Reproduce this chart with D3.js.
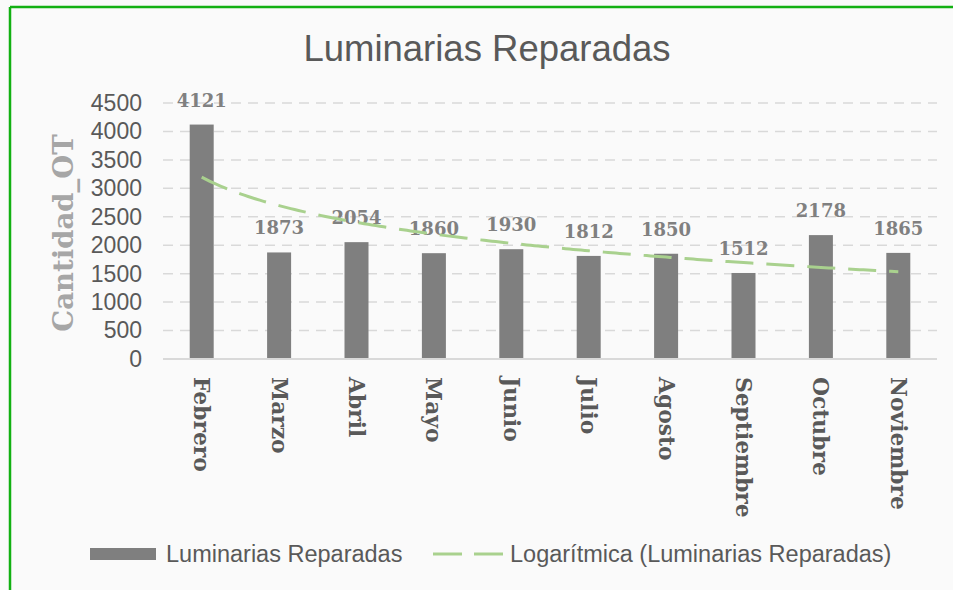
<!DOCTYPE html>
<html>
<head>
<meta charset="utf-8">
<script src="https://cdn.jsdelivr.net/npm/d3@7"></script>
<style>
  html, body { margin: 0; padding: 0; background: #fafafa; }
  svg { display: block; }
</style>
</head>
<body>
<svg id="chart" width="953" height="590"></svg>
<script>
// months and repaired lamps
let meses = ["Febrero", "Marzo", "Abril", "Mayo", "Junio", "Julio", "Agosto", "Septiembre", "Octubre", "Noviembre"];
let luminarias = [4121, 1873, 2054, 1860, 1930, 1812, 1850, 1512, 2178, 1865];
let yTicks = [0, 500, 1000, 1500, 2000, 2500, 3000, 3500, 4000, 4500];

let svg = d3.select("#chart");

let plotLeft = 163, plotRight = 937, plotTop = 103, plotBottom = 359;

// green frame (only top and left visible)
svg.append("line").attr("x1", 10).attr("x2", 953).attr("y1", 7).attr("y2", 7)
    .attr("stroke", "#12b012").attr("stroke-width", 2.5);
svg.append("line").attr("x1", 10).attr("x2", 10).attr("y1", 7).attr("y2", 590)
    .attr("stroke", "#12b012").attr("stroke-width", 2.5);

let x = d3.scaleBand()
    .domain(meses)
    .range([plotLeft, plotRight])
    .paddingInner(0.69)
    .paddingOuter(0.345);

let y = d3.scaleLinear()
    .domain([0, 4500])
    .range([plotBottom, plotTop]);

// title
svg.append("text")
    .attr("x", 487).attr("y", 61)
    .attr("text-anchor", "middle")
    .style("font-family", "'Liberation Sans', Arial, sans-serif")
    .style("font-size", "36.5px")
    .style("fill", "#595959")
    .text("Luminarias Reparadas");

// gridlines
svg.append("g").selectAll("line")
    .data(yTicks.filter(d => d > 0))
    .join("line")
    .attr("x1", plotLeft).attr("x2", plotRight)
    .attr("y1", d => y(d)).attr("y2", d => y(d))
    .attr("stroke", "#d9d9d9")
    .attr("stroke-width", 1.5)
    .attr("stroke-dasharray", "10,7");

// y axis labels
let yAxis = d3.axisLeft(y).tickValues(yTicks).tickFormat(d3.format("d")).tickSize(0).tickPadding(0);
let yg = svg.append("g")
    .attr("transform", "translate(142,0)")
    .call(yAxis);
yg.select(".domain").remove();
yg.selectAll("text")
    .style("font-family", "'Liberation Sans', Arial, sans-serif")
    .style("font-size", "23px")
    .style("fill", "#595959");

// y axis title
svg.append("text")
    .attr("transform", "translate(73,233) rotate(-90)")
    .attr("text-anchor", "middle")
    .style("font-family", "'DejaVu Serif', serif")
    .style("font-weight", "bold")
    .style("font-size", "27.5px")
    .style("fill", "#a6a6a6")
    .text("Cantidad_OT");

// bars
svg.append("g").selectAll("rect")
    .data(luminarias)
    .join("rect")
    .attr("x", (d, i) => x(meses[i]))
    .attr("width", x.bandwidth())
    .attr("y", d => y(d))
    .attr("height", d => y(0) - y(d))
    .style("fill", "#7f7f7f");

// baseline
svg.append("line")
    .attr("x1", plotLeft).attr("x2", plotRight)
    .attr("y1", y(0)).attr("y2", y(0))
    .attr("stroke", "#d9d9d9").attr("stroke-width", 2);

// data labels
svg.append("g").selectAll("text")
    .data(luminarias)
    .join("text")
    .attr("x", (d, i) => x(meses[i]) + x.bandwidth() / 2)
    .attr("y", d => y(d) - 18)
    .attr("text-anchor", "middle")
    .style("font-family", "'DejaVu Serif', serif")
    .style("font-weight", "bold")
    .style("font-size", "18px")
    .style("fill", "#808080")
    .text(d => d);

// x labels (rotated)
svg.append("g").selectAll("text")
    .data(meses)
    .join("text")
    .attr("transform", d => "translate(" + (x(d) + x.bandwidth() / 2) + ",377) rotate(90)")
    .attr("dominant-baseline", "central")
    .style("font-family", "'DejaVu Serif', serif")
    .style("font-weight", "bold")
    .style("font-size", "21.8px")
    .style("fill", "#595959")
    .text(d => d);

// logarithmic trendline: least squares fit y = a + b ln(x)
let lx = luminarias.map((d, i) => Math.log(i + 1));
let mx = d3.mean(lx), my = d3.mean(luminarias);
let b = d3.sum(lx, (v, i) => (v - mx) * (luminarias[i] - my)) / d3.sum(lx, v => (v - mx) * (v - mx));
let a = my - b * mx;

let xt = d3.scaleLinear()
    .domain([1, meses.length])
    .range([x(meses[0]) + x.bandwidth() / 2, x(meses[meses.length - 1]) + x.bandwidth() / 2]);

let trendPts = d3.range(1, meses.length + 0.001, 0.05);
svg.append("path")
    .datum(trendPts)
    .attr("d", d3.line().x(t => xt(t)).y(t => y(a + b * Math.log(t))))
    .attr("fill", "none")
    .attr("stroke", "#a9d18e")
    .attr("stroke-width", 3)
    .attr("stroke-dasharray", "28,13");

// legend
let legend = svg.append("g");
legend.append("rect")
    .attr("x", 90).attr("y", 548).attr("width", 66).attr("height", 12)
    .style("fill", "#7f7f7f");
legend.append("text")
    .attr("x", 166).attr("y", 562)
    .style("font-family", "'Liberation Sans', Arial, sans-serif")
    .style("font-size", "23.5px")
    .style("fill", "#595959")
    .text("Luminarias Reparadas");
legend.append("line")
    .attr("x1", 433).attr("x2", 503).attr("y1", 554).attr("y2", 554)
    .attr("stroke", "#a9d18e").attr("stroke-width", 3)
    .attr("stroke-dasharray", "29,12");
legend.append("text")
    .attr("x", 510).attr("y", 562)
    .style("font-family", "'Liberation Sans', Arial, sans-serif")
    .style("font-size", "23.5px")
    .style("fill", "#595959")
    .text("Logarítmica (Luminarias Reparadas)");
</script>
</body>
</html>
